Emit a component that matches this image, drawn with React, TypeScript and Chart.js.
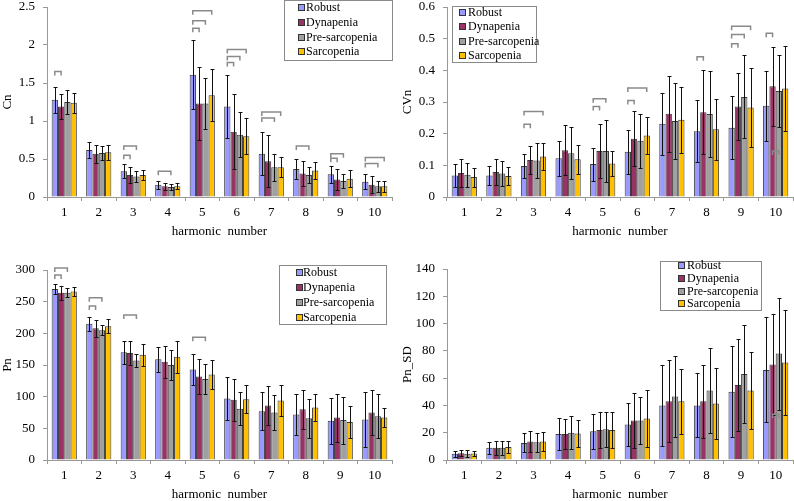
import React, { useEffect, useRef } from 'react';
import { Chart, registerables } from 'chart.js';
Chart.register(...registerables);

const categories = ['1', '2', '3', '4', '5', '6', '7', '8', '9', '10'];
const seriesNames = ['Robust', 'Dynapenia', 'Pre-sarcopenia', 'Sarcopenia'];
const seriesColors = ['#9999FF', '#993366', '#A0A0A0', '#FFC000'];

// Cn
const cnRobust = [1.28, 0.62, 0.34, 0.16, 1.61, 1.19, 0.57, 0.37, 0.30, 0.20];
const cnRobustSD = [0.17, 0.11, 0.09, 0.05, 0.45, 0.41, 0.28, 0.13, 0.11, 0.10];
const cnDyna = [1.19, 0.57, 0.29, 0.14, 1.23, 0.86, 0.47, 0.31, 0.23, 0.16];
const cnDynaSD = [0.17, 0.12, 0.10, 0.05, 0.48, 0.49, 0.34, 0.17, 0.14, 0.11];
const cnPre = [1.25, 0.58, 0.27, 0.13, 1.23, 0.82, 0.39, 0.29, 0.21, 0.14];
const cnPreSD = [0.16, 0.09, 0.07, 0.04, 0.33, 0.30, 0.18, 0.10, 0.09, 0.07];
const cnSarco = [1.24, 0.59, 0.29, 0.14, 1.34, 0.80, 0.39, 0.35, 0.24, 0.14];
const cnSarcoSD = [0.13, 0.10, 0.07, 0.04, 0.34, 0.24, 0.13, 0.11, 0.11, 0.07];
// [category index, from series, to series, height]
const cnBrackets = [
  [0, 0, 1, 1.65], [2, 0, 1, 0.55], [2, 0, 2, 0.67], [3, 0, 2, 0.34],
  [4, 0, 1, 2.22], [4, 0, 2, 2.32], [4, 0, 3, 2.45],
  [5, 0, 1, 1.77], [5, 0, 2, 1.85], [5, 0, 3, 1.94],
  [6, 0, 2, 1.04], [6, 0, 3, 1.12], [7, 0, 2, 0.67],
  [8, 0, 1, 0.51], [8, 0, 2, 0.57], [9, 0, 2, 0.44], [9, 0, 3, 0.52],
];

// CVn
const cvRobust = [0.068, 0.068, 0.098, 0.122, 0.104, 0.143, 0.231, 0.208, 0.219, 0.288];
const cvRobustSD = [0.035, 0.03, 0.037, 0.055, 0.052, 0.07, 0.098, 0.098, 0.099, 0.11];
const cvDyna = [0.076, 0.079, 0.117, 0.148, 0.145, 0.184, 0.263, 0.268, 0.286, 0.35];
const cvDynaSD = [0.045, 0.04, 0.045, 0.08, 0.086, 0.086, 0.12, 0.132, 0.107, 0.125];
const cvPre = [0.070, 0.074, 0.115, 0.138, 0.145, 0.178, 0.24, 0.262, 0.316, 0.335];
const cvPreSD = [0.038, 0.04, 0.055, 0.082, 0.098, 0.085, 0.12, 0.137, 0.131, 0.114];
const cvSarco = [0.063, 0.066, 0.128, 0.119, 0.106, 0.194, 0.244, 0.214, 0.283, 0.343];
const cvSarcoSD = [0.03, 0.028, 0.043, 0.046, 0.04, 0.059, 0.104, 0.097, 0.125, 0.133];
const cvBrackets = [
  [2, 0, 1, 0.23], [2, 0, 3, 0.27], [4, 0, 1, 0.286], [4, 0, 2, 0.31],
  [5, 0, 1, 0.305], [5, 0, 3, 0.344], [7, 0, 1, 0.443],
  [8, 0, 1, 0.484], [8, 0, 2, 0.513], [8, 0, 3, 0.539],
  [9, 0, 1, 0.517], [9, 1, 2, 0.145],
];

// Pn
const pnRobust = [270, 215, 170, 159, 143, 97, 77, 72, 62, 64];
const pnRobustSD = [8, 11, 18, 20, 25, 34, 30, 32, 36, 43];
const pnDyna = [264, 208, 169, 155, 132, 95, 86, 80, 67, 75];
const pnDynaSD = [11, 13, 19, 25, 27, 33, 31, 31, 38, 36];
const pnPre = [264, 205, 157, 150, 128, 81, 75, 66, 63, 69];
const pnPreSD = [7, 8, 10, 23, 24, 26, 28, 31, 37, 35];
const pnSarco = [266, 211, 166, 163, 135, 96, 94, 83, 60, 67];
const pnSarcoSD = [7, 11, 17, 25, 23, 22, 25, 21, 26, 15];
const pnBrackets = [
  [0, 0, 1, 292], [0, 0, 2, 303], [1, 0, 1, 243], [1, 0, 2, 256],
  [2, 0, 2, 229], [4, 0, 2, 194],
];

// Pn_SD
const psRobust = [4.5, 9, 12.5, 19, 21, 26, 40, 40, 50, 66];
const psRobustSD = [2, 4.5, 7, 11.5, 13, 16, 29.5, 23.5, 33.5, 38.5];
const psDyna = [5, 9, 13.5, 19, 22, 29, 43, 43, 55, 70];
const psDynaSD = [2, 5, 8, 11, 13, 20, 30, 27, 33.5, 37];
const psPre = [4.5, 9, 13, 20, 22.5, 29, 46.5, 51, 63, 78];
const psPreSD = [2.5, 5, 7, 12, 13, 17, 30, 31, 36, 41];
const psSarco = [4.8, 9.5, 13.5, 19.5, 22, 30.5, 43, 41.5, 51, 71.5];
const psSarcoSD = [2, 4.5, 7, 10, 13, 21, 24, 26, 28.5, 38.5];
const psBrackets = [[9, 1, 2, 33.5]];

const FONT = '"Liberation Serif", "Times New Roman", serif';

type PanelCfg = {
  left: number; top: number; width: number; height: number;
  padTop: number; padRight: number;
  means: number[][]; errs: number[][]; brackets: number[][];
  yMax: number; yStep: number; yTitle: string;
  legend: { x: number; y: number; w: number; h: number; rows: number[]; sq: number; tx: number };
};

const panels: PanelCfg[] = [
  {
    left: 0, top: 0, width: 400, height: 250, padTop: 7, padRight: 8,
    means: [cnRobust, cnDyna, cnPre, cnSarco], errs: [cnRobustSD, cnDynaSD, cnPreSD, cnSarcoSD],
    brackets: cnBrackets, yMax: 2.5, yStep: 0.5, yTitle: 'Cn',
    legend: { x: 284.5, y: 0.5, w: 108, h: 60, rows: [8, 23, 38, 52], sq: 298, tx: 306 },
  },
  {
    left: 400, top: 0, width: 394, height: 250, padTop: 7, padRight: 1,
    means: [cvRobust, cvDyna, cvPre, cvSarco], errs: [cvRobustSD, cvDynaSD, cvPreSD, cvSarcoSD],
    brackets: cvBrackets, yMax: 0.6, yStep: 0.1, yTitle: 'CVn',
    legend: { x: 52.5, y: 6.5, w: 84, h: 56, rows: [13, 27, 42, 56], sq: 59, tx: 68 },
  },
  {
    left: 0, top: 255, width: 400, height: 258, padTop: 15, padRight: 8,
    means: [pnRobust, pnDyna, pnPre, pnSarco], errs: [pnRobustSD, pnDynaSD, pnPreSD, pnSarcoSD],
    brackets: pnBrackets, yMax: 300, yStep: 50, yTitle: 'Pn',
    legend: { x: 279.5, y: 10.5, w: 107, h: 59, rows: [18, 33, 48, 63], sq: 296, tx: 303 },
  },
  {
    left: 400, top: 255, width: 394, height: 258, padTop: 14, padRight: 1,
    means: [psRobust, psDyna, psPre, psSarco], errs: [psRobustSD, psDynaSD, psPreSD, psSarcoSD],
    brackets: psBrackets, yMax: 140, yStep: 20, yTitle: 'Pn_SD',
    legend: { x: 260.5, y: 6.5, w: 101, h: 49, rows: [11, 24, 37, 49], sq: 278, tx: 287 },
  },
];

function Panel({ cfg }: { cfg: PanelCfg }) {
  const ref = useRef<HTMLCanvasElement>(null);
  useEffect(() => {
    const canvas = ref.current;
    if (!canvas) return;
    const extras = {
      id: 'extras',
      afterDatasetsDraw(chart: any) {
        const ctx = chart.ctx as CanvasRenderingContext2D;
        const ys = chart.scales.y;
        ctx.save();
        // error bars
        ctx.strokeStyle = '#111';
        ctx.lineWidth = 1;
        cfg.means.forEach((m, di) => {
          const meta = chart.getDatasetMeta(di);
          m.forEach((v, i) => {
            const e = cfg.errs[di][i];
            const x = Math.round(meta.data[i].x) + 0.5;
            const t = Math.round(ys.getPixelForValue(v + e)) + 0.5;
            const b = Math.round(ys.getPixelForValue(Math.max(0, v - e))) + 0.5;
            ctx.beginPath();
            ctx.moveTo(x, t); ctx.lineTo(x, b);
            ctx.moveTo(x - 2, t); ctx.lineTo(x + 2, t);
            ctx.moveTo(x - 2, b); ctx.lineTo(x + 2, b);
            ctx.stroke();
          });
        });
        // significance brackets
        ctx.strokeStyle = '#8a8a8a';
        ctx.lineWidth = 1.5;
        cfg.brackets.forEach(([cat, a, bb, val]) => {
          const x1 = chart.getDatasetMeta(a).data[cat].x;
          const x2 = chart.getDatasetMeta(bb).data[cat].x;
          const y = ys.getPixelForValue(val);
          ctx.beginPath();
          ctx.moveTo(x1, y + 4); ctx.lineTo(x1, y); ctx.lineTo(x2, y); ctx.lineTo(x2, y + 4);
          ctx.stroke();
        });
        // legend
        const L = cfg.legend;
        ctx.fillStyle = '#fff';
        ctx.fillRect(L.x, L.y, L.w, L.h);
        ctx.strokeStyle = '#8a8a8a';
        ctx.lineWidth = 1;
        ctx.strokeRect(L.x, L.y, L.w, L.h);
        ctx.font = '12px ' + FONT;
        ctx.textBaseline = 'middle';
        ctx.textAlign = 'left';
        seriesNames.forEach((name, i) => {
          const ry = L.rows[i];
          ctx.fillStyle = seriesColors[i];
          ctx.fillRect(L.sq + 0.5, ry - 3.5, 6, 6);
          ctx.strokeStyle = '#333';
          ctx.strokeRect(L.sq + 0.5, ry - 3.5, 6, 6);
          ctx.fillStyle = '#000';
          ctx.fillText(name, L.tx, ry);
        });
        ctx.restore();
      },
    };
    const chart = new Chart(canvas, {
      type: 'bar',
      data: {
        labels: categories,
        datasets: cfg.means.map((m, i) => ({
          label: seriesNames[i],
          data: m,
          backgroundColor: seriesColors[i],
          borderColor: '#3a3a3a',
          borderWidth: 1,
          categoryPercentage: 0.73,
          barPercentage: 1,
        })),
      },
      options: {
        responsive: false,
        animation: false,
        devicePixelRatio: 1,
        layout: { padding: { top: 0, right: cfg.padRight, left: 0, bottom: 0 } },
        plugins: { legend: { display: false }, tooltip: { enabled: false } },
        scales: {
          x: {
            type: 'category',
            grid: { offset: true, drawOnChartArea: false, drawTicks: true, tickLength: 4, color: '#999' },
            border: { color: '#999' },
            ticks: { font: { family: FONT, size: 13 }, color: '#000', padding: 4 },
            title: {
              display: true, text: 'harmonic  number', color: '#000',
              font: { family: FONT, size: 13 }, padding: { top: 0, bottom: 11 },
            },
            afterFit: (s: any) => { s.height = 53; s.paddingLeft = 0; s.paddingRight = 0; },
          },
          y: {
            min: 0, max: cfg.yMax,
            grid: { drawOnChartArea: false, drawTicks: true, tickLength: 4, color: '#999' },
            border: { color: '#999' },
            ticks: {
              stepSize: cfg.yStep, font: { family: FONT, size: 13 }, color: '#000', padding: 8,
              callback: (v: any) => String(Math.round(Number(v) * 100) / 100),
            },
            title: {
              display: true, text: cfg.yTitle, color: '#000',
              font: { family: FONT, size: 13 }, padding: 0,
            },
            afterFit: (s: any) => { s.width = 47; s.paddingTop = cfg.padTop; s.paddingBottom = 0; },
          },
        },
      },
      plugins: [extras],
    } as any);
    return () => chart.destroy();
  }, [cfg]);
  return (
    <canvas
      ref={ref}
      width={cfg.width}
      height={cfg.height}
      style={{ position: 'absolute', left: cfg.left, top: cfg.top, width: cfg.width, height: cfg.height }}
    />
  );
}

export default function App() {
  return (
    <div style={{ position: 'fixed', left: 0, top: 0, width: 794, height: 501, overflow: 'hidden', background: '#fff' }}>
      {panels.map((p, i) => <Panel key={i} cfg={p} />)}
    </div>
  );
}
